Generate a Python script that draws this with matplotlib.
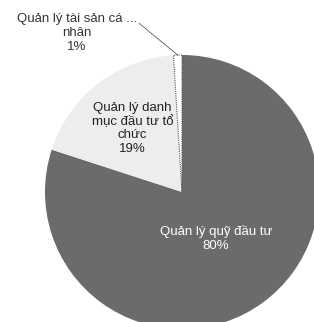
import numpy as np
import matplotlib
matplotlib.use("Agg")
import matplotlib.pyplot as plt

plt.rcParams['font.family'] = ['Liberation Sans', 'DejaVu Sans']

# Data
labels = ["Quản lý quỹ đầu tư", "Quản lý danh\nmục đầu tư tổ\nchức", "Quản lý tài sản cá ...\nnhân"]
values = [80, 19, 1]
colors = ["#6b6b6b", "#ededed", "#ffffff"]

fig = plt.figure(figsize=(3.14, 3.22), dpi=100)
ax = fig.add_axes([0.1433, -0.0217, 0.8726, 0.851])

wedges, _ = ax.pie(values, colors=colors, startangle=90, counterclock=False,
                   radius=1.0, wedgeprops=dict(linewidth=0))
wedges[2].set_edgecolor("#555555")
wedges[2].set_linewidth(0.8)
wedges[2].set_linestyle((0, (1, 1)))

ax.set_xlim(-1, 1)
ax.set_ylim(-1, 1)
ax.set_aspect('equal')
ax.axis('off')

# labels inside the two big slices
label_r = [0.42, 0.59]
text_colors = ["white", "#222222"]
for i in range(2):
    w = wedges[i]
    ang = np.deg2rad((w.theta1 + w.theta2) / 2)
    ax.text(label_r[i] * np.cos(ang), label_r[i] * np.sin(ang),
            f"{labels[i]}\n{values[i]}%", ha='center', va='center',
            fontsize=9.5, color=text_colors[i], linespacing=1.15)

# small slice label outside with leader line
w = wedges[2]
ang = np.deg2rad((w.theta1 + w.theta2) / 2)
ax.annotate(f"{labels[2]}\n{values[2]}%",
            xy=(np.cos(ang) * 0.99, np.sin(ang) * 1.0),
            xytext=(-0.77, 1.16), ha='center', va='center',
            fontsize=9.5, color="#333333", linespacing=1.2,
            annotation_clip=False,
            arrowprops=dict(arrowstyle='-', color="#555555", lw=0.7,
                            linestyle=(0, (1, 1)), shrinkA=0, shrinkB=0,
                            relpos=(1.0, 0.8)))

fig.savefig("out.png", dpi=100)
